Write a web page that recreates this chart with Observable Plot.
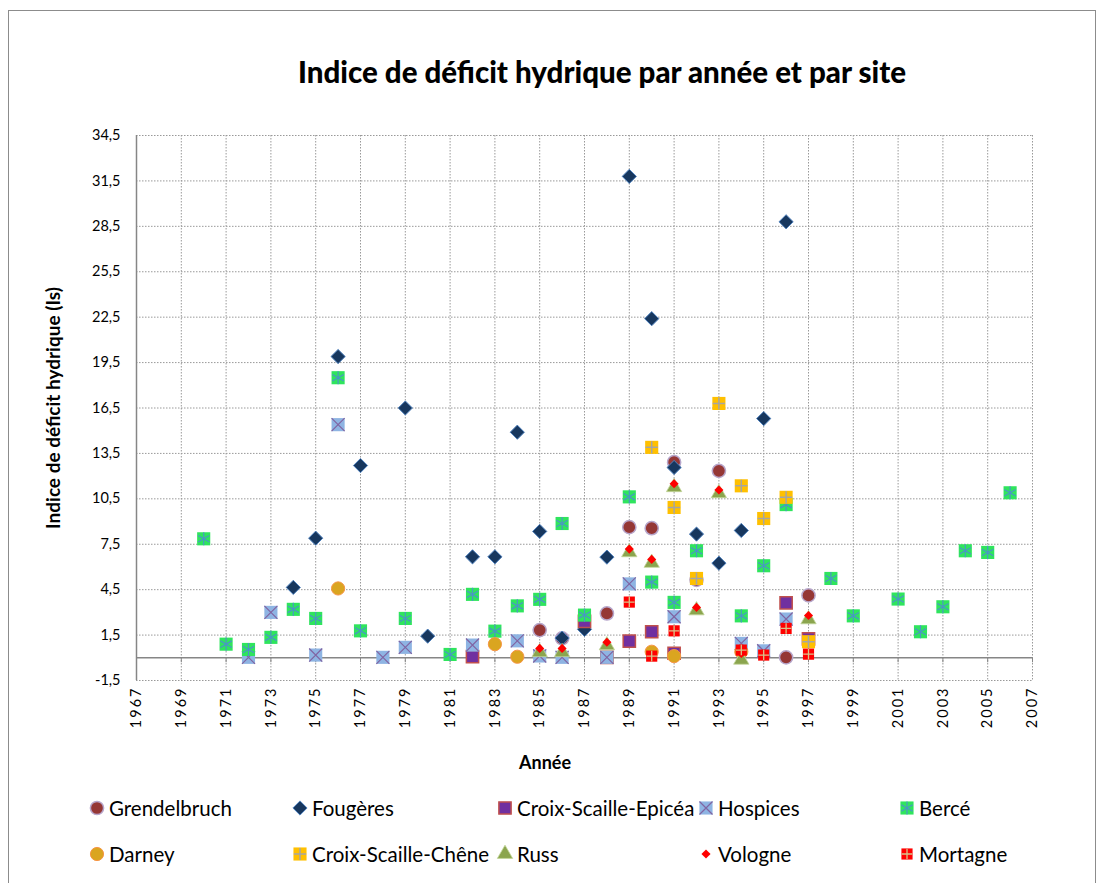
<!DOCTYPE html>
<html><head><meta charset="utf-8">
<script src="https://cdn.jsdelivr.net/npm/d3@7"></script>
<script src="https://cdn.jsdelivr.net/npm/@observablehq/plot@0.6"></script>
<style>
body{margin:0;background:#fff;font-family:Lato,"Liberation Sans",sans-serif;color:#000;}
#chart{position:relative;width:1106px;height:883px;overflow:hidden;background:#fff;}
#frame{position:absolute;left:8px;top:10px;width:1088px;height:880px;border:1px solid #8c8c8c;box-sizing:border-box;}
#title{position:absolute;left:0;width:1204px;top:54px;text-align:center;font-weight:900;font-size:29.5px;line-height:36px;white-space:nowrap;}
#plot{position:absolute;left:0;top:110px;}
#ylab{position:absolute;left:52px;top:408px;transform:translate(-50%,-50%) rotate(-90deg);font-weight:bold;font-size:19px;white-space:nowrap;}
#xlab{position:absolute;left:545px;top:762px;transform:translate(-50%,-50%);font-weight:bold;font-size:18px;}
.leg{position:absolute;display:flex;align-items:center;font-size:20.5px;white-space:nowrap;transform:translateY(-50%);}
.leg svg{margin-right:3px;}
g[aria-label="x-axis tick label"] text{letter-spacing:2px;}
</style></head>
<body><div id="chart">
<div id="frame"></div>
<div id="title">Indice de déficit hydrique par année et par site</div>
<div id="plot"></div>
<div id="ylab">Indice de déficit hydrique (Is)</div>
<div id="xlab">Année</div>
</div>
<script>
// ---- data: [year, deficit index] per site ----
const grendelbruch = [[1985,1.83],[1986,1.28],[1988,2.93],[1989,8.63],[1990,8.56],[1991,12.92],[1992,5.15],[1993,12.35],[1996,0.03],[1997,4.12]];
const fougeres = [[1974,4.65],[1975,7.9],[1976,19.9],[1977,12.7],[1979,16.5],[1980,1.43],[1982,6.67],[1983,6.67],[1984,14.9],[1985,8.35],[1986,1.3],[1987,1.88],[1988,6.65],[1989,31.8],[1990,22.4],[1991,12.57],[1992,8.17],[1993,6.25],[1994,8.41],[1995,15.8],[1996,28.8]];
const croixScailleEpicea = [[1982,0.07],[1987,2.4],[1988,0.03],[1989,1.1],[1990,1.72],[1991,0.3],[1996,3.63],[1997,1.25]];
const hospices = [[1972,0.03],[1973,3.0],[1975,0.18],[1976,15.4],[1978,0.03],[1979,0.69],[1982,0.84],[1984,1.12],[1985,0.12],[1986,0.03],[1988,0.03],[1989,4.88],[1991,2.71],[1994,0.95],[1995,0.46],[1996,2.56]];
const berce = [[1970,7.86],[1971,0.9],[1972,0.55],[1973,1.35],[1974,3.2],[1975,2.6],[1976,18.5],[1977,1.78],[1979,2.6],[1981,0.22],[1982,4.19],[1983,1.76],[1984,3.43],[1985,3.86],[1986,8.87],[1987,2.82],[1989,10.63],[1990,5.0],[1991,3.66],[1992,7.07],[1994,2.77],[1995,6.08],[1996,10.12],[1998,5.24],[1999,2.77],[2001,3.88],[2002,1.72],[2003,3.37],[2004,7.07],[2005,6.96],[2006,10.9]];
const darney = [[1976,4.58],[1983,0.9],[1984,0.07],[1990,0.4],[1991,0.11],[1994,0.4]];
const croixScailleChene = [[1990,13.9],[1991,9.93],[1992,5.24],[1993,16.8],[1994,11.36],[1995,9.2],[1996,10.6],[1997,1.06]];
const russ = [[1985,0.5],[1986,0.5],[1988,0.95],[1989,7.1],[1990,6.4],[1991,11.4],[1992,3.26],[1993,11.0],[1994,0.0],[1997,2.67]];
const vologne = [[1985,0.62],[1986,0.62],[1988,1.03],[1989,7.18],[1990,6.5],[1991,11.5],[1992,3.33],[1993,11.08],[1994,0.29],[1997,2.79]];
const mortagne = [[1989,3.68],[1990,0.11],[1991,1.78],[1994,0.51],[1995,0.18],[1996,1.94],[1997,0.24]];

const siteNames = ["Grendelbruch","Fougères","Croix-Scaille-Epicéa","Hospices","Bercé","Darney","Croix-Scaille-Chêne","Russ","Vologne","Mortagne"];
const siteData = [grendelbruch,fougeres,croixScailleEpicea,hospices,berce,darney,croixScailleChene,russ,vologne,mortagne];

const xTicks = [1967,1969,1971,1973,1975,1977,1979,1981,1983,1985,1987,1989,1991,1993,1995,1997,1999,2001,2003,2005,2007];
const yTicks = [-1.5,1.5,4.5,7.5,10.5,13.5,16.5,19.5,22.5,25.5,28.5,31.5,34.5];

// ---- marker styles ----
const styles = [
  {symbol:"circle", r:6.6, fill:"#953735", stroke:"#B7A6CB", sw:1.5},
  {symbol:"diamond2", r:6.4, fill:"#17375E", stroke:"#4F81BD", sw:1},
  {symbol:"square", r:6.9, fill:"#7030A0", stroke:"#C0504D", sw:1.5},
  {symbol:"square", r:7.4, fill:"#8EB4E3", stroke:"none", sw:0, over:"times", or:6.0, ostroke:"#8064A2", osw:1.2},
  {symbol:"square", r:7.4, fill:"#2FE55D", stroke:"none", sw:0, over:"asterisk", or:6.2, ostroke:"#4A97C4", osw:1.2},
  {symbol:"circle", r:6.6, fill:"#DAA520", stroke:"#F79646", sw:1},
  {symbol:"square", r:7.4, fill:"#FFC000", stroke:"none", sw:0, over:"plus", or:4.0, ostroke:"#A5A5A5", osw:1.5},
  {symbol:"triangle", r:5.7, fill:"#8BA54E", stroke:"#C3D69B", sw:0.8, dy:2},
  {symbol:"diamond2", r:4.1, fill:"#FF0000", stroke:"none", sw:0},
  {symbol:"square", r:6.3, fill:"#FF0000", stroke:"none", sw:0, over:"plus", or:3.5, ostroke:"#D8C38A", osw:1.3}
];

const dotMarks = [];
siteData.forEach((data, i) => {
  const s = styles[i];
  dotMarks.push(Plot.dot(data, {x: d => d[0], y: d => d[1], symbol: s.symbol, r: s.r, fill: s.fill, stroke: s.stroke, strokeWidth: s.sw, dy: s.dy || 0}));
  if (s.over) dotMarks.push(Plot.dot(data, {x: d => d[0], y: d => d[1], symbol: s.over, r: s.or, fill: "none", stroke: s.ostroke, strokeWidth: s.osw}));
});

const fmt = d => d.toFixed(1).replace(".", ",");

const chart = Plot.plot({
  width: 1106, height: 670,
  marginLeft: 136, marginRight: 74, marginTop: 25, marginBottom: 100,
  style: {fontFamily: "Lato, 'Liberation Sans', sans-serif", fontSize: "14px", color: "#000", background: "transparent", overflow: "visible"},
  x: {domain: [1967, 2007]},
  y: {domain: [-1.5, 34.5]},
  marks: [
    Plot.gridX(xTicks, {stroke: "#999", strokeOpacity: 1, strokeDasharray: "1.5,1.5"}),
    Plot.gridY(yTicks, {stroke: "#999", strokeOpacity: 1, strokeDasharray: "1.5,1.5"}),
    Plot.ruleX([1967], {stroke: "#868686", strokeWidth: 1.5}),
    Plot.ruleY([0], {stroke: "#868686", strokeWidth: 1.5}),
    Plot.ruleX(xTicks, {y1: 0, y2: 0, insetBottom: -5, stroke: "#868686"}),
    Plot.axisY(yTicks, {tickSize: 0, tickPadding: 16, tickFormat: fmt, label: null, fontSize: 14.5}),
    Plot.axisX(xTicks, {tickSize: 0, tickPadding: 6, tickRotate: -90, tickFormat: d => String(d), label: null, fontSize: 14.5}),
    ...dotMarks
  ]
});
document.getElementById("plot").appendChild(chart);

// ---- legend ----
const legCols = [97, 300, 505, 706, 907];
const legRows = [808, 854];
const symType = {circle: d3.symbolCircle, diamond2: d3.symbolDiamond2, square: d3.symbolSquare, triangle: d3.symbolTriangle, times: d3.symbolTimes || d3.symbolX, asterisk: d3.symbolAsterisk, plus: d3.symbolPlus};
const chartDiv = document.getElementById("chart");
siteNames.forEach((name, i) => {
  const s = styles[i];
  const div = document.createElement("div");
  div.className = "leg";
  div.style.left = (legCols[i % 5] - 9) + "px";
  div.style.top = legRows[Math.floor(i / 5)] + "px";
  const svg = d3.create("svg").attr("width", 18).attr("height", 18);
  const g = svg.append("g").attr("transform", "translate(9,9)");
  g.append("path").attr("d", d3.symbol(symType[s.symbol], Math.PI * s.r * s.r)())
    .attr("fill", s.fill).attr("stroke", s.stroke).attr("stroke-width", s.sw);
  if (s.over) g.append("path").attr("d", d3.symbol(symType[s.over], Math.PI * s.or * s.or)())
    .attr("fill", "none").attr("stroke", s.ostroke).attr("stroke-width", s.osw);
  div.appendChild(svg.node());
  const span = document.createElement("span");
  span.textContent = name;
  div.appendChild(span);
  chartDiv.appendChild(div);
});
</script>
</body></html>
